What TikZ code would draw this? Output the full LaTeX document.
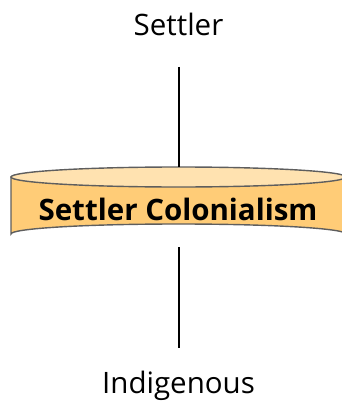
\documentclass[tikz,border=0pt]{standalone}
\usepackage{fontspec}
\setmainfont{Open Sans}
\definecolor{cylbody}{HTML}{FFCC77}
\definecolor{cyltop}{HTML}{FFE2B0}
\definecolor{cylline}{HTML}{5E5E5E}
\begin{document}
\begin{tikzpicture}[x=1pt,y=-1pt,
  lbl/.style={inner sep=0pt,anchor=base,font=\fontsize{29.5}{34}\selectfont},
  conn/.style={line width=2pt,black},
  cyl/.style={draw=cylline,line width=1.4pt}]
\useasboundingbox (0,0) rectangle (341,404);
\node[lbl] (settler) at (178.5,36) {Settler};
\node[lbl] (indig) at (178.5,393) {Indigenous};
% cylinder
\path[cyl,fill=cylbody] (11,177) -- (11,234) arc[start angle=180,end angle=360,x radius=167.5,y radius=10] -- (346,177) -- cycle;
\path[cyl,fill=cyltop] (178.5,177) ellipse[x radius=167.5,y radius=10];
\node[inner sep=0pt,anchor=base,font=\fontsize{29.5}{34}\selectfont\bfseries] (sc) at (178,220) {Settler Colonialism};
\coordinate (ctop) at (178.5,167);
\coordinate (cbot) at (178.5,247);
\coordinate (ltop) at (178.5,67);
\coordinate (lbot) at (178.5,348);
\draw[conn] (ltop) -- (ctop);
\draw[conn] (cbot) -- (lbot);
\end{tikzpicture}
\end{document}
